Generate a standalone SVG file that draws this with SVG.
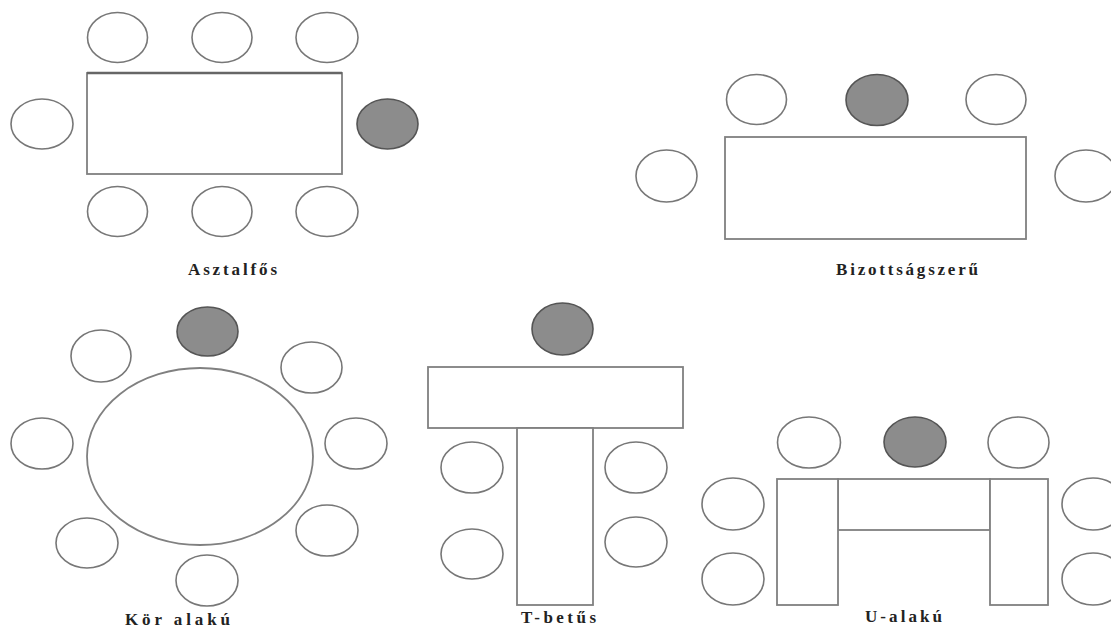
<svg xmlns="http://www.w3.org/2000/svg" width="1111" height="629" viewBox="0 0 1111 629">
<style>
.chair{fill:#fff;stroke:#777;stroke-width:1.6}
.head{fill:#8c8c8c;stroke:#555;stroke-width:1.6}
.table{fill:#fff;stroke:#808080;stroke-width:1.8}
.lbl{font-family:"Liberation Serif","Times New Roman",serif;font-weight:bold;font-size:17px;fill:#222}
</style>
<rect width="1111" height="629" fill="#fff"/>
<g id="asztalfos">
<rect class="table" x="87" y="73" width="255" height="101"/>
<line x1="87" y1="73" x2="342" y2="73" stroke="#666" stroke-width="2.5"/>
<ellipse class="chair" cx="117.5" cy="37.5" rx="30" ry="25"/>
<ellipse class="chair" cx="222" cy="37.5" rx="30" ry="25"/>
<ellipse class="chair" cx="327" cy="37.5" rx="31" ry="25"/>
<ellipse class="chair" cx="42" cy="124" rx="31" ry="25"/>
<ellipse class="head" cx="387.5" cy="124" rx="30.5" ry="25"/>
<ellipse class="chair" cx="117.5" cy="211.5" rx="30" ry="25"/>
<ellipse class="chair" cx="222" cy="211.5" rx="30" ry="25"/>
<ellipse class="chair" cx="327" cy="211.5" rx="31" ry="25"/>
<text class="lbl" x="188" y="275" textLength="89" lengthAdjust="spacing">Asztalfős</text>
</g>
<g id="bizottsagszeru">
<rect class="table" x="725" y="137" width="301" height="102"/>
<ellipse class="chair" cx="756.5" cy="99.5" rx="30" ry="25"/>
<ellipse class="head" cx="877" cy="100" rx="31" ry="25.5"/>
<ellipse class="chair" cx="996" cy="99.5" rx="30" ry="25"/>
<ellipse class="chair" cx="666.5" cy="176" rx="30.5" ry="26"/>
<ellipse class="chair" cx="1086" cy="176" rx="31" ry="26"/>
<text class="lbl" x="836" y="275" textLength="142" lengthAdjust="spacing">Bizottságszerű</text>
</g>
<g id="kor-alaku">
<ellipse class="table" cx="200" cy="456.5" rx="113" ry="88.5"/>
<ellipse class="head" cx="207.5" cy="331.5" rx="30.5" ry="24.5"/>
<ellipse class="chair" cx="101" cy="356" rx="30" ry="26"/>
<ellipse class="chair" cx="311.5" cy="367.5" rx="30.5" ry="25.5"/>
<ellipse class="chair" cx="42" cy="443.5" rx="31" ry="25.5"/>
<ellipse class="chair" cx="356" cy="443.5" rx="31" ry="25.5"/>
<ellipse class="chair" cx="87" cy="543" rx="31" ry="25"/>
<ellipse class="chair" cx="327" cy="530.5" rx="31" ry="25.5"/>
<ellipse class="chair" cx="207" cy="580.5" rx="31" ry="25.5"/>
<text class="lbl" x="125" y="625" textLength="105" lengthAdjust="spacing">Kör alakú</text>
</g>
<g id="t-betus">
<rect class="table" x="428" y="367" width="255" height="61"/>
<rect class="table" x="517" y="428" width="76" height="177"/>
<ellipse class="head" cx="562.5" cy="329" rx="30.5" ry="26"/>
<ellipse class="chair" cx="472" cy="467.5" rx="31" ry="25.5"/>
<ellipse class="chair" cx="472" cy="554" rx="31" ry="25"/>
<ellipse class="chair" cx="636" cy="467.5" rx="31" ry="25.5"/>
<ellipse class="chair" cx="636" cy="542" rx="31" ry="25"/>
<text class="lbl" x="521" y="623" textLength="75" lengthAdjust="spacing">T-betűs</text>
</g>
<g id="u-alaku">
<rect class="table" x="838" y="479" width="152" height="51"/>
<rect class="table" x="777" y="479" width="61" height="126"/>
<rect class="table" x="990" y="479" width="58" height="126"/>
<ellipse class="chair" cx="809" cy="442.5" rx="31.5" ry="25.5"/>
<ellipse class="head" cx="915" cy="442" rx="31" ry="25"/>
<ellipse class="chair" cx="1018.5" cy="442.5" rx="30.5" ry="25.5"/>
<ellipse class="chair" cx="733" cy="504" rx="31" ry="26"/>
<ellipse class="chair" cx="733" cy="579" rx="31" ry="26"/>
<ellipse class="chair" cx="1093" cy="504" rx="31" ry="26"/>
<ellipse class="chair" cx="1093" cy="579" rx="31" ry="26"/>
<text class="lbl" x="865" y="622" textLength="77" lengthAdjust="spacing">U-alakú</text>
</g>
<g id="connectors"></g>
</svg>
